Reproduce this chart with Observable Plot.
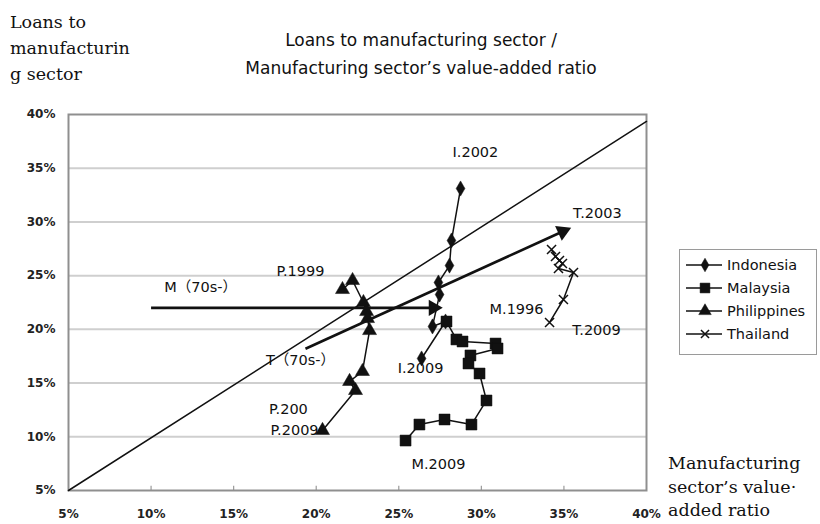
<!DOCTYPE html>
<html>
<head>
<meta charset="utf-8">
<script src="https://cdn.jsdelivr.net/npm/d3@7"></script>
<script src="https://cdn.jsdelivr.net/npm/@observablehq/plot@0.6"></script>
<style>
  html, body { margin: 0; padding: 0; background: #fff; }
  #wrap { position: relative; width: 820px; height: 524px; overflow: hidden; background: #fff; }
  #wrap svg.plot { position: absolute; left: 0; top: 0; }
  .title { position: absolute; left: 21px; top: 26px; width: 800px; text-align: center;
           font-family: "DejaVu Sans", sans-serif; font-size: 17px; line-height: 28px; color: #111; }
  .ytitle { position: absolute; left: 10px; top: 9px; font-family: "DejaVu Serif", serif;
            font-size: 17.5px; line-height: 26px; color: #111; }
  .xtitle { position: absolute; left: 668px; top: 452px; font-family: "DejaVu Serif", serif;
            font-size: 17.5px; line-height: 23.5px; color: #111; white-space: nowrap; }
  .legend { position: absolute; left: 679px; top: 249px; width: 138px; height: 106px;
            border: 1px solid #9a9a9a; box-sizing: border-box; background: #fff; }
</style>
</head>
<body>
<div id="wrap"></div>
<script>
// ---- data ----
const seriesNames = ["Indonesia", "Malaysia", "Philippines", "Thailand"];
const seriesSymbols = ["diamond", "square", "triangle", "times"];

const indonesiaX = [28.74, 28.19, 28.07, 27.40, 27.47, 27.04, 27.83, 26.38];
const indonesiaY = [33.11, 28.27, 25.94, 24.36, 23.24, 20.27, 20.73, 17.29];

const malaysiaX = [27.89, 28.49, 28.86, 30.86, 30.98, 29.34, 29.22, 29.89, 30.31, 29.40, 27.77, 26.25, 25.41];
const malaysiaY = [20.73, 19.06, 18.87, 18.68, 18.22, 17.57, 16.82, 15.89, 13.38, 11.14, 11.61, 11.14, 9.65];

const philippinesX = [21.59, 22.20, 22.86, 23.05, 23.11, 23.23, 22.80, 22.02, 22.38, 20.38];
const philippinesY = [23.71, 24.55, 22.50, 21.66, 21.01, 19.89, 16.08, 15.15, 14.31, 10.59];

const thailandX = [34.25, 34.49, 34.73, 34.91, 34.67, 35.58, 34.97, 34.13];
const thailandY = [27.43, 26.78, 26.41, 26.13, 25.67, 25.29, 22.78, 20.64];

// 45-degree reference line
const diagX = [5, 40];
const diagY = [5, 39.35];

// trend arrows (70s-)
const arrowNames = ["M", "T"];
const arrowX1 = [10.0, 19.35];
const arrowY1 = [22.0, 18.2];
const arrowX2 = [27.4, 35.2];
const arrowY2 = [22.0, 29.3];

// annotation labels
const labelTexts = ["I.2002", "T.2003", "P.1999", "M（70s-）", "M.1996", "T.2009", "T（70s-）", "I.2009", "P.200", "P.2009", "M.2009"];
const labelX = [29.64, 37.03, 19.05, 13.0, 32.13, 36.97, 19.05, 26.32, 18.32, 18.69, 27.40];
const labelY = [36.46, 30.78, 25.39, 23.9, 21.85, 19.89, 17.10, 16.36, 12.54, 10.59, 7.42];

const xTicks = [5, 10, 15, 20, 25, 30, 35, 40];
const yTicks = [5, 10, 15, 20, 25, 30, 35, 40];
const pct = d => d + "%";

// ---- build tables ----
const seriesX = [indonesiaX, malaysiaX, philippinesX, thailandX];
const seriesY = [indonesiaY, malaysiaY, philippinesY, thailandY];
const points = seriesNames.flatMap((name, i) =>
  seriesX[i].map((x, j) => ({series: name, symbol: seriesSymbols[i], x, y: seriesY[i][j]})));
const diag = diagX.map((x, i) => ({x, y: diagY[i]}));
const labels = labelTexts.map((t, i) => ({t, x: labelX[i], y: labelY[i]}));

// layout
const W = 820, H = 524, mL = 68, mR = 174, mT = 114, mB = 34;
const kx = (W - mL - mR) / 35, ky = (H - mT - mB) / 35;
const arrows = arrowNames.map((n, i) => {
  const dxp = (arrowX2[i] - arrowX1[i]) * kx, dyp = (arrowY2[i] - arrowY1[i]) * ky;
  const len = Math.hypot(dxp, dyp);
  const back = 5;
  return {
    n, x1: arrowX1[i], y1: arrowY1[i],
    x2: arrowX2[i] - (dxp / len) * back / kx,
    y2: arrowY2[i] - (dyp / len) * back / ky,
    angle: Math.atan2(dxp, dyp) * 180 / Math.PI
  };
});

const symR = {diamond: 4.6, square: 6.2, triangle: 5.2, times: 4.2};

const chart = Plot.plot({
  width: W, height: H,
  marginLeft: mL, marginRight: mR, marginTop: mT, marginBottom: mB,
  x: {domain: [5, 40]},
  y: {domain: [5, 40]},
  style: {fontFamily: "DejaVu Sans, sans-serif", fontSize: "12px", background: "transparent", overflow: "visible"},
  marks: [
    Plot.ruleY(yTicks.slice(1, -1), {stroke: "#cfcfcf", strokeWidth: 2}),
    Plot.ruleX(xTicks.slice(1, -1), {y1: 5, y2: 5.4, stroke: "#9a9a9a", strokeWidth: 1.2}),
    Plot.frame({stroke: "#8f8f8f", strokeWidth: 2}),
    Plot.axisX({ticks: xTicks, tickFormat: pct, tickSize: 0, tickPadding: 19, fontWeight: "bold", fill: "#222", fontSize: 12}),
    Plot.axisY({ticks: yTicks, tickFormat: pct, tickSize: 0, tickPadding: 13, fontWeight: "bold", fill: "#222", fontSize: 12}),
    Plot.line(diag, {x: "x", y: "y", stroke: "#111", strokeWidth: 1.5}),
    Plot.line(points, {x: "x", y: "y", z: "series", stroke: "#111", strokeWidth: 1.5}),
    ...seriesNames.map((name, i) =>
      Plot.dot(points.filter(d => d.series === name), {
        x: "x", y: "y", symbol: seriesSymbols[i], r: symR[seriesSymbols[i]],
        fill: seriesSymbols[i] === "times" ? "none" : "#111",
        stroke: "#111", strokeWidth: seriesSymbols[i] === "times" ? 1.5 : 0.5
      })),
    Plot.link(arrows, {x1: "x1", y1: "y1", x2: "x2", y2: "y2", stroke: "#111", strokeWidth: 2.6}),
    Plot.dot(arrows, {x: "x2", y: "y2", symbol: "triangle", r: 6, fill: "#111", rotate: "angle"}),
    Plot.text(labels, {x: "x", y: "y", text: "t", fontSize: 14.5, fill: "#111", fontFamily: "DejaVu Sans, Noto Sans CJK JP, sans-serif"})
  ]
});
chart.classList.add("plot");

const wrap = document.getElementById("wrap");
wrap.appendChild(chart);

const title = document.createElement("div");
title.className = "title";
title.innerHTML = "Loans to manufacturing sector /<br>Manufacturing sector’s value-added ratio";
wrap.appendChild(title);

const yt = document.createElement("div");
yt.className = "ytitle";
yt.innerHTML = "Loans to<br>manufacturin<br>g sector";
wrap.appendChild(yt);

const xt = document.createElement("div");
xt.className = "xtitle";
xt.innerHTML = "Manufacturing<br>sector’s value·<br>added ratio";
wrap.appendChild(xt);

// legend
const leg = document.createElement("div");
leg.className = "legend";
wrap.appendChild(leg);
const ls = d3.select(leg).append("svg").attr("width", 138).attr("height", 106)
  .style("position", "absolute").style("left", "-1px").style("top", "-1px");
const d3sym = {diamond: d3.symbolDiamond, square: d3.symbolSquare, triangle: d3.symbolTriangle, times: d3.symbolTimes};
seriesNames.forEach((name, i) => {
  const cy = 16 + i * 23;
  const g = ls.append("g").attr("transform", `translate(0,${cy})`);
  g.append("line").attr("x1", 7).attr("x2", 43).attr("y1", 0).attr("y2", 0).attr("stroke", "#111").attr("stroke-width", 1.5);
  const s = seriesSymbols[i];
  const rr = symR[s];
  g.append("path").attr("transform", "translate(26,0)")
    .attr("d", d3.symbol(d3sym[s], Math.PI * rr * rr * 0.8)())
    .attr("fill", s === "times" ? "none" : "#111").attr("stroke", "#111").attr("stroke-width", s === "times" ? 1.5 : 0.5);
  g.append("text").attr("x", 48).attr("y", 0).attr("dy", "0.35em").text(name)
    .attr("font-family", "DejaVu Sans, sans-serif").attr("font-size", 14.5).attr("fill", "#111");
});
</script>
</body>
</html>
